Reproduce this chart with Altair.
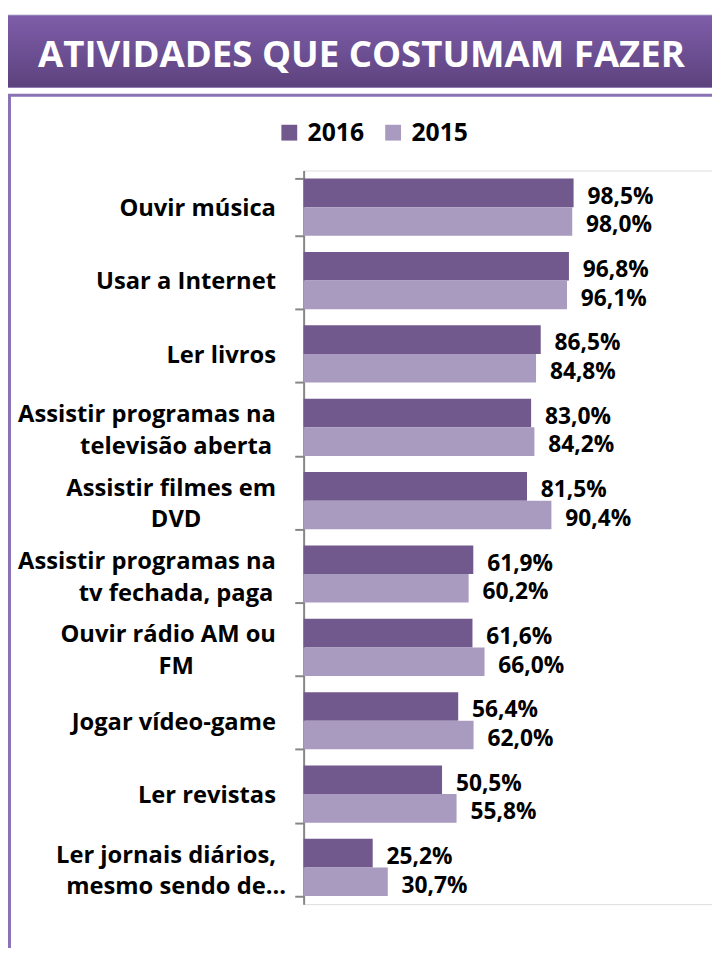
import altair as alt
import pandas as pd

# ---- data ----
categories = [
    "Ouvir música",
    "Usar a Internet",
    "Ler livros",
    "Assistir programas na|televisão aberta",
    "Assistir filmes em|DVD",
    "Assistir programas na|tv fechada, paga",
    "Ouvir rádio AM ou|FM",
    "Jogar vídeo-game",
    "Ler revistas",
    "Ler jornais diários,|mesmo sendo de…",
]
years = ["2016", "2015"]
values_2016 = [98.5, 96.8, 86.5, 83.0, 81.5, 61.9, 61.6, 56.4, 50.5, 25.2]
values_2015 = [98.0, 96.1, 84.8, 84.2, 90.4, 60.2, 66.0, 62.0, 55.8, 30.7]
title_text = "ATIVIDADES QUE COSTUMAM FAZER"

DARK = "#71598d"
LIGHT = "#a99abf"
FONT = "Open Sans"

rows = []
for c, v16, v15 in zip(categories, values_2016, values_2015):
    for y, v in (("2016", v16), ("2015", v15)):
        rows.append({"cat": c, "year": y, "value": v,
                     "label": f"{v:.1f}".replace(".", ",") + "%"})
df = pd.DataFrame(rows)
cat_df = pd.DataFrame({
    "cat": categories,
    "two": [("|" in c) for c in categories],
    "first": [c.split("|")[0] for c in categories],
    "second": [c.split("|")[1] if "|" in c else "" for c in categories],
})

W, H = 413, 742

x_enc = alt.X("value:Q", scale=alt.Scale(domain=[0, 149], nice=False, zero=True), axis=None)
y_enc = alt.Y(
    "cat:N", sort=categories,
    scale=alt.Scale(paddingInner=0.22, paddingOuter=0.11),
    axis=alt.Axis(labels=False, title=None, tickBand="extent", domainColor="#868686",
                  domainWidth=2, tickColor="#868686", tickWidth=2, tickSize=9, grid=False),
)
y_cat = alt.Y("cat:N", sort=categories)
yoff = alt.YOffset("year:N", sort=years, scale=alt.Scale(paddingInner=0, paddingOuter=0))

one = alt.Data(values=[{"k": 0}])

panel = alt.Chart(one).mark_rect(fillOpacity=0, stroke="#8a72b5", strokeWidth=3).encode(
    x=alt.value(-297.5), x2=alt.value(700), y=alt.value(-76), y2=alt.value(1000)
)

banner = alt.Chart(one).mark_rect(
    fill=alt.Gradient(
        gradient="linear",
        stops=[alt.GradientStop(color="#7f5da9", offset=0),
               alt.GradientStop(color="#6a4d90", offset=0.6),
               alt.GradientStop(color="#5c427c", offset=1)],
        x1=0, x2=0, y1=0, y2=1,
    ),
    stroke="#8d7ab0", strokeWidth=1,
).encode(x=alt.value(-300), x2=alt.value(W + 10), y=alt.value(-157), y2=alt.value(-84))

title = alt.Chart(one).mark_text(
    text=title_text, font=FONT, fontWeight="bold", fontSize=37, color="white",
    align="center", baseline="alphabetic",
).encode(x=alt.value(58.5), y=alt.value(-105))

bars = alt.Chart(df).mark_bar().encode(
    x=x_enc, y=y_enc, yOffset=yoff,
    color=alt.Color("year:N", scale=alt.Scale(domain=years, range=[DARK, LIGHT]),
                    legend=alt.Legend(orient="none", legendX=-27, legendY=-51, direction="horizontal",
                                      title=None, symbolType="square", symbolSize=256,
                                      symbolStrokeWidth=0, symbolOpacity=1,
                                      labelFont=FONT, labelFontWeight="bold", labelFontSize=25,
                                      labelColor="black", labelOffset=6, columnPadding=16,
                                      padding=0)),
)

vals = alt.Chart(df).mark_text(
    align="left", baseline="middle", dx=14, dy=4, font=FONT, fontWeight="bold",
    fontSize=23, color="black",
).encode(x=x_enc, y=y_enc, yOffset=yoff, text="label:N")

lbl = dict(font=FONT, fontWeight="bold", fontSize=24, color="black", baseline="middle")

single_labels = alt.Chart(cat_df).transform_filter("!datum.two").mark_text(
    align="right", dy=2, **lbl
).encode(x=alt.value(-28), y=y_cat, text="first:N")

first_lines = alt.Chart(cat_df).transform_filter("datum.two").mark_text(
    align="right", dy=-12, **lbl
).encode(x=alt.value(-28), y=y_cat, text="first:N")

second_lines = alt.Chart(cat_df).transform_filter("datum.two").mark_text(
    align="center", dy=20, **lbl
).encode(x=alt.value(-129), y=y_cat, text="second:N")

chart = alt.layer(panel, banner, title, bars, vals, single_labels, first_lines, second_lines).properties(
    width=W, height=H,
    autosize=alt.AutoSizeParams(type="none"),
    padding={"left": 299, "top": 159, "right": 0, "bottom": 39},
).configure_view(stroke=None).configure(background="white")

chart.save("out.html", embed_options={"renderer": "svg", "actions": False})
